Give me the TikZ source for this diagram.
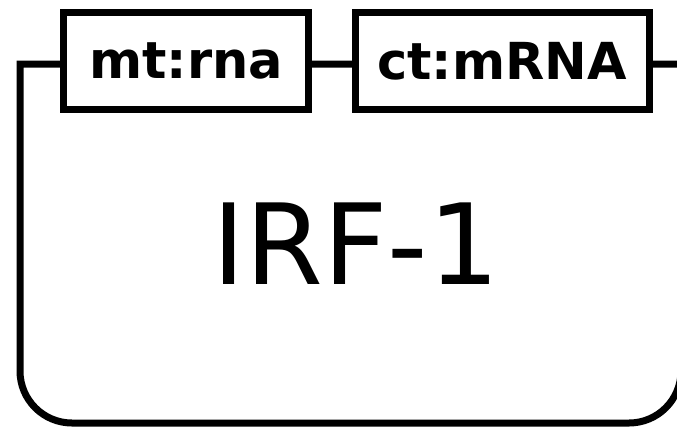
\documentclass[tikz,border=0pt]{standalone}
\usepackage{fontspec}
\setmainfont{DejaVu Sans}
\usetikzlibrary{positioning}

\begin{document}
\begin{tikzpicture}[x=1pt, y=-1pt,
  glyph/.style={draw, line width=7pt},
  unitbox/.style={draw, line width=7pt, fill=white, inner sep=0pt,
                  minimum width=#1, minimum height=97pt,
                  font=\fontsize{51}{60}\selectfont\bfseries},
  label/.style={inner sep=0pt, font=\fontsize{112}{130}\selectfont}
]
  \useasboundingbox (0,0) rectangle (677,429);

  % nucleic acid feature body
  \draw[glyph] (20,64) -- (681,64) -- (681,371)
    arc[start angle=0, end angle=90, radius=52] -- (72,423)
    arc[start angle=90, end angle=180, radius=52] -- cycle;

  % units of information
  \node[unitbox=245pt] (mt) at (186,60.5) {mt:rna};
  \node[unitbox=294pt] (ct) at (502,61) {ct:mRNA};

  \node[label] (irf) at (356,244) {IRF-1};
\end{tikzpicture}
\end{document}
